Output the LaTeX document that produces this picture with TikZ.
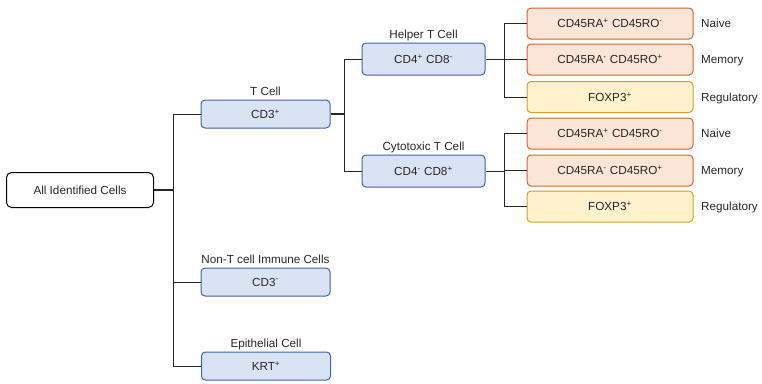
\documentclass[tikz,border=0pt]{standalone}
\usepackage{fontspec}
\setmainfont{Liberation Sans}
\usetikzlibrary{positioning}
\definecolor{tfill}{RGB}{218,227,243}
\definecolor{tline}{RGB}{62,100,170}
\definecolor{ofill}{RGB}{251,229,214}
\definecolor{oline}{RGB}{212,102,40}
\definecolor{yfill}{RGB}{255,242,204}
\definecolor{yline}{RGB}{206,162,30}
\tikzset{
    base/.style={rounded corners=4pt, line width=1pt, text=black!85, font=\fontsize{11.7}{14}\selectfont},
    rootbox/.style={base, draw=black, fill=white, minimum width=147pt, minimum height=35pt, rounded corners=5pt},
    cellbox/.style={base, draw=tline, fill=tfill, minimum width=129pt, minimum height=28pt},
    subbox/.style={base, draw=tline, fill=tfill, minimum width=123pt, minimum height=32pt},
    memobox/.style={base, draw=oline, fill=ofill, minimum width=166pt, minimum height=31pt},
    regbox/.style={base, draw=yline, fill=yfill, minimum width=166pt, minimum height=31pt},
    lbl/.style={inner sep=0pt, text depth=0pt, text=black!85, font=\fontsize{11.7}{14}\selectfont},
    link/.style={line width=0.8pt, black!85},
    stub/.style={line width=1.5pt, black!85}
}

\begin{document}
\begin{tikzpicture}[x=1pt, y=-1pt]

    \useasboundingbox (0,0) rectangle (762,383);

    % Racine
    \node[rootbox] (all) at (80,190) {All Identified Cells};

    % Niveau 1
    \node[cellbox] (tcell) at (265.5,114) {CD3\textsuperscript{+}};
    \node[cellbox] (nont) at (265.5,282) {CD3\textsuperscript{-}};
    \node[cellbox] (epi) at (266,366) {KRT\textsuperscript{+}};
    \node[lbl, above=4pt of tcell] (tcelllbl) {T Cell};
    \node[lbl, above=4pt of nont] (nontlbl) {Non-T cell Immune Cells};
    \node[lbl, above=4pt of epi] (epilbl) {Epithelial Cell};

    % Niveau 2
    \node[subbox] (helper) at (423.5,59) {CD4\textsuperscript{+} CD8\textsuperscript{-}};
    \node[subbox] (cyto) at (423.5,171) {CD4\textsuperscript{-} CD8\textsuperscript{+}};
    \node[lbl, above=4pt of helper] (helperlbl) {Helper T Cell};
    \node[lbl, above=4pt of cyto] (cytolbl) {Cytotoxic T Cell};

    % Niveau 3 (helper)
    \node[memobox] (hnaive) at (610,23.5) {CD45RA\textsuperscript{+} CD45RO\textsuperscript{-}};
    \node[memobox] (hmem) at (610,59.5) {CD45RA\textsuperscript{-} CD45RO\textsuperscript{+}};
    \node[regbox] (hreg) at (610,97) {FOXP3\textsuperscript{+}};

    % Niveau 3 (cytotoxic)
    \node[memobox] (cnaive) at (610,133.5) {CD45RA\textsuperscript{+} CD45RO\textsuperscript{-}};
    \node[memobox] (cmem) at (610,170.5) {CD45RA\textsuperscript{-} CD45RO\textsuperscript{+}};
    \node[regbox] (creg) at (610,206.5) {FOXP3\textsuperscript{+}};

    % Labels a droite
    \node[lbl, anchor=west] (hnaivelbl) at (701,23.5) {Naive};
    \node[lbl, anchor=west] (hmemlbl) at (701,59.5) {Memory};
    \node[lbl, anchor=west] (hreglbl) at (701,97) {Regulatory};
    \node[lbl, anchor=west] (cnaivelbl) at (701,133.5) {Naive};
    \node[lbl, anchor=west] (cmemlbl) at (701,170.5) {Memory};
    \node[lbl, anchor=west] (creglbl) at (701,206.5) {Regulatory};

    % Jonctions
    \coordinate (jall) at (173,190);
    \coordinate (jt) at (344,114);
    \coordinate (jh) at (504,59);
    \coordinate (jc) at (504,171);

    % Connexions
    \draw[stub] (all) -- (jall);
    \draw[link] (jall) |- (tcell);
    \draw[link] (jall) |- (nont);
    \draw[link] (jall) |- (epi);

    \draw[stub] (tcell) -- (jt);
    \draw[link] (jt) |- (helper);
    \draw[link] (jt) |- (cyto);

    \draw[link] (helper) -- (jh);
    \draw[link] (jh) |- (hnaive);
    \draw[link] (jh) |- (hmem);
    \draw[link] (jh) |- (hreg);

    \draw[link] (cyto) -- (jc);
    \draw[link] (jc) |- (cnaive);
    \draw[link] (jc) |- (cmem);
    \draw[link] (jc) |- (creg);

\end{tikzpicture}
\end{document}
